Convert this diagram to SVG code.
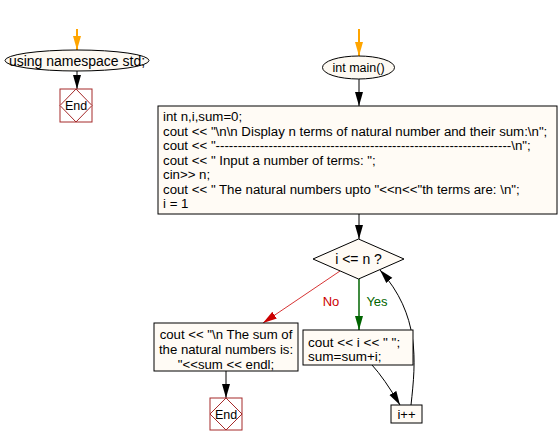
<svg xmlns="http://www.w3.org/2000/svg" width="559" height="446" viewBox="0 0 559 446">
<defs>
<style>
text{font-family:"Liberation Sans",Arial,sans-serif;font-size:13px;fill:#000}
.c{text-anchor:middle}
.t{font-size:13.25px}
.term{fill:#fdf9f2;stroke:#000;stroke-width:1}
.box{fill:#fffbf5;stroke:#000;stroke-width:1}
.endb{fill:#fff;stroke:#a52a2a;stroke-width:1}
.ln{fill:none;stroke:#000;stroke-width:1}
</style>
<marker id="ab" markerUnits="userSpaceOnUse" markerWidth="14" markerHeight="10" viewBox="0 0 14 10" refX="14" refY="5" orient="auto"><path d="M0,1 L14,5 L0,9 Z" fill="#000"/></marker>
<marker id="ao" markerUnits="userSpaceOnUse" markerWidth="14" markerHeight="10" viewBox="0 0 14 10" refX="14" refY="5" orient="auto"><path d="M0,1 L14,5 L0,9 Z" fill="#ffa500"/></marker>
<marker id="ag" markerUnits="userSpaceOnUse" markerWidth="14" markerHeight="10" viewBox="0 0 14 10" refX="14" refY="5" orient="auto"><path d="M0,1 L14,5 L0,9 Z" fill="#006400"/></marker>
<marker id="ar" markerUnits="userSpaceOnUse" markerWidth="14" markerHeight="10" viewBox="0 0 14 10" refX="14" refY="5" orient="auto"><path d="M0,1 L14,5 L0,9 Z" fill="#cc0000"/></marker>
</defs>
<rect width="559" height="446" fill="#fff"/>
<g id="connectors">
<line x1="77" y1="29" x2="77" y2="50" stroke="#ffa500" stroke-width="2" marker-end="url(#ao)"/>
<line x1="77" y1="71" x2="77" y2="89" class="ln" stroke-width="2" marker-end="url(#ab)"/>
<line x1="359" y1="29" x2="359" y2="56" stroke="#ffa500" stroke-width="2" marker-end="url(#ao)"/>
<line x1="359" y1="79" x2="359" y2="106" class="ln" marker-end="url(#ab)"/>
<line x1="359" y1="214" x2="359" y2="239" class="ln" marker-end="url(#ab)"/>
<line x1="359" y1="279" x2="359" y2="330" stroke="#006400" stroke-width="1.5" marker-end="url(#ag)"/>
<line x1="340" y1="271" x2="263" y2="323" stroke="#cc0000" stroke-width="0.8" marker-end="url(#ar)"/>
<line x1="226" y1="371" x2="226" y2="398" class="ln" stroke-width="1.5" marker-end="url(#ab)"/>
<path d="M372,365 Q384,378 400,405" class="ln" marker-end="url(#ab)"/>
<path d="M411,405 C416,360 420,315 380,270" class="ln" marker-end="url(#ab)"/>
<text x="331" y="306" class="c" style="fill:#cc0000">No</text>
<text x="377" y="306" class="c" style="fill:#006400">Yes</text>
</g>
<g id="ns">
<ellipse cx="77" cy="60.5" rx="72" ry="10.5" class="term"/>
<text x="77" y="65.5" class="c" style="font-size:14px">using namespace std;</text>
</g>
<g id="end1">
<rect x="60" y="89" width="32" height="33" class="endb"/>
<path d="M76,89 L92,105.5 L76,122 L60,105.5 Z" class="endb"/>
<text x="76" y="110" class="c" style="font-size:12.5px">End</text>
</g>
<g id="main">
<ellipse cx="358.5" cy="67.5" rx="36" ry="11.5" class="term"/>
<text x="358.5" y="72" class="c" style="font-size:12.5px">int main()</text>
</g>
<g id="init">
<rect x="158" y="106" width="399" height="108" class="box"/>
<text x="163" y="121" class="t">int n,i,sum=0;</text>
<text x="163" y="135.5" class="t">cout &lt;&lt; "\n\n Display n terms of natural number and their sum:\n";</text>
<text x="163" y="150" class="t">cout &lt;&lt; "-------------------------------------------------------------------\n";</text>
<text x="163" y="164.5" class="t">cout &lt;&lt; " Input a number of terms: ";</text>
<text x="163" y="179" class="t">cin&gt;&gt; n;</text>
<text x="163" y="193.5" class="t">cout &lt;&lt; " The natural numbers upto "&lt;&lt;n&lt;&lt;"th terms are: \n";</text>
<text x="163" y="208" class="t">i = 1</text>
</g>
<g id="cond">
<path d="M313,259 L358.5,239 L404,259 L358.5,279 Z" class="box"/>
<text x="358.5" y="264" class="c" style="font-size:14px">i &lt;= n ?</text>
</g>
<g id="body">
<rect x="303" y="330" width="110" height="35" class="box"/>
<text x="308" y="347" style="font-size:13.5px">cout &lt;&lt; i &lt;&lt; " ";</text>
<text x="308" y="361" style="font-size:13.5px">sum=sum+i;</text>
</g>
<g id="inc">
<rect x="391" y="405" width="31" height="18" class="box"/>
<text x="406.5" y="418.5" class="c">i++</text>
</g>
<g id="result">
<rect x="154" y="323" width="144" height="48" class="box"/>
<text x="226" y="338.5" class="c" style="font-size:13.2px">cout &lt;&lt; "\n The sum of</text>
<text x="226" y="353.5" class="c" style="font-size:13.2px">the natural numbers is:</text>
<text x="226" y="368.5" class="c" style="font-size:13.2px">"&lt;&lt;sum &lt;&lt; endl;</text>
</g>
<g id="end2">
<rect x="210" y="398" width="32" height="32" class="endb"/>
<path d="M226,398 L242,414 L226,430 L210,414 Z" class="endb"/>
<text x="226" y="418.5" class="c" style="font-size:12.5px">End</text>
</g>
</svg>
